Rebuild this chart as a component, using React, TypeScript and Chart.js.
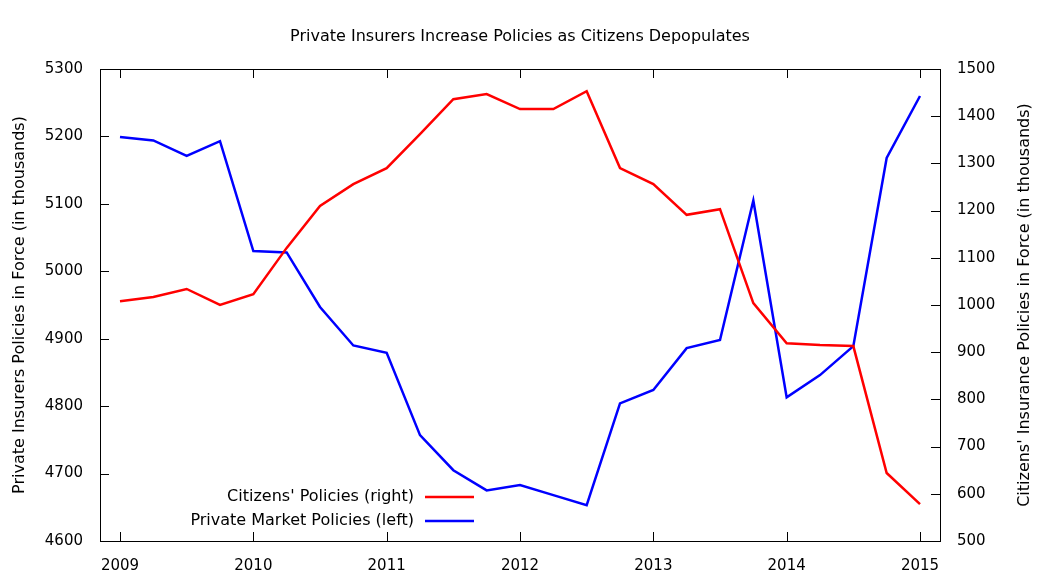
import React, { useEffect, useRef } from "react";
import { Chart, registerables } from "chart.js";
Chart.register(...registerables);

const quarters = [2009,2009.25,2009.5,2009.75,2010,2010.25,2010.5,2010.75,2011,2011.25,2011.5,2011.75,2012,2012.25,2012.5,2012.75,2013,2013.25,2013.5,2013.75,2014,2014.25,2014.5,2014.75,2015];
const privateMarket = [5199,5194,5171,5193,5030,5028,4947,4890,4879,4757,4705,4675,4683,4668,4653,4804,4824,4886,4898,5105,4813,4846,4889,5168,5260];
const citizens = [1008,1017,1034,1000,1023,1121,1210,1256,1290,1362,1436,1447,1415,1415,1453,1290,1256,1191,1203,1004,919,915,913,644,578];
const yearTicks = [2009, 2010, 2011, 2012, 2013, 2014, 2015];
const chartTitle = "Private Insurers Increase Policies as Citizens Depopulates";
const leftTitle = "Private Insurers Policies in Force (in thousands)";
const rightTitle = "Citizens' Insurance Policies in Force (in thousands)";
const legendLabels = ["Citizens' Policies (right)", "Private Market Policies (left)"];
const FONT = "'DejaVu Sans', sans-serif";

export default function App() {
  const ref = useRef<HTMLCanvasElement>(null);
  useEffect(() => {
    document.body.style.margin = "0";
    const deco = {
      id: "deco",
      afterDraw(c: any) {
        const ctx = c.ctx as CanvasRenderingContext2D;
        const a = c.chartArea;
        ctx.save();
        ctx.strokeStyle = "#000"; ctx.lineWidth = 1;
        ctx.strokeRect(a.left + 0.5, a.top + 0.5, a.right - a.left, a.bottom - a.top);
        const x = c.scales.x, yl = c.scales.y, yr = c.scales.y1;
        ctx.beginPath();
        for (const v of yearTicks) {
          const p = Math.round(x.getPixelForValue(v)) + 0.5;
          ctx.moveTo(p, a.bottom); ctx.lineTo(p, a.bottom - 9);
          ctx.moveTo(p, a.top); ctx.lineTo(p, a.top + 9);
        }
        for (let v = 4600; v <= 5300; v += 100) {
          const p = Math.round(yl.getPixelForValue(v)) + 0.5;
          ctx.moveTo(a.left, p); ctx.lineTo(a.left + 9, p);
        }
        for (let v = 500; v <= 1500; v += 100) {
          const p = Math.round(yr.getPixelForValue(v)) + 0.5;
          ctx.moveTo(a.right, p); ctx.lineTo(a.right - 9, p);
        }
        ctx.stroke();
        ctx.fillStyle = "#000";
        ctx.font = `16px ${FONT}`;
        ctx.textAlign = "center"; ctx.textBaseline = "middle";
        ctx.fillText(chartTitle, 520, 37);
        ctx.save(); ctx.translate(20, 305); ctx.rotate(-Math.PI / 2); ctx.fillText(leftTitle, 0, 0); ctx.restore();
        ctx.save(); ctx.translate(1025, 305); ctx.rotate(-Math.PI / 2); ctx.fillText(rightTitle, 0, 0); ctx.restore();
        const cols = ["#ff0000", "#0000ff"];
        ctx.textAlign = "right";
        legendLabels.forEach((t, i) => {
          const y = 497 + i * 24;
          ctx.fillStyle = "#000";
          ctx.fillText(t, 414, y);
          ctx.strokeStyle = cols[i]; ctx.lineWidth = 2.5;
          ctx.beginPath(); ctx.moveTo(425, y); ctx.lineTo(474, y); ctx.stroke();
        });
        ctx.restore();
      },
    };
    const tickFont = { family: FONT, size: 15 };
    const chart = new Chart(ref.current!, {
      type: "line",
      data: {
        datasets: [
          { label: "Citizens", data: quarters.map((q, i) => ({ x: q, y: citizens[i] })), borderColor: "#ff0000", borderWidth: 2.5, pointRadius: 0, yAxisID: "y1", tension: 0 },
          { label: "Private", data: quarters.map((q, i) => ({ x: q, y: privateMarket[i] })), borderColor: "#0000ff", borderWidth: 2.5, pointRadius: 0, yAxisID: "y", tension: 0 },
        ],
      },
      options: {
        animation: false, responsive: false,
        layout: { padding: { top: 69, left: 0, right: 0, bottom: 0 } },
        plugins: { legend: { display: false }, tooltip: { enabled: false } },
        scales: {
          x: { type: "linear", min: 2008.85, max: 2015.15, grid: { display: false }, border: { display: false },
            afterBuildTicks: (s: any) => { s.ticks = yearTicks.map((v) => ({ value: v })); },
            ticks: { padding: 8, color: "#000", font: tickFont, callback: (v: any) => String(v) },
            afterFit: (s: any) => { s.height = 43; } },
          y: { position: "left", min: 4600, max: 5300, grid: { display: false }, border: { display: false },
            ticks: { stepSize: 100, padding: 9, color: "#000", font: tickFont, callback: (v: any) => String(v) },
            afterFit: (s: any) => { s.width = 100; } },
          y1: { position: "right", min: 500, max: 1500, grid: { display: false }, border: { display: false },
            ticks: { stepSize: 100, padding: 9, color: "#000", font: tickFont, callback: (v: any) => String(v) },
            afterFit: (s: any) => { s.width = 122; } },
        },
      },
      plugins: [deco],
    });
    return () => chart.destroy();
  }, []);
  return <div style={{ width: 1062, height: 584, background: "#fff" }}><canvas ref={ref} width={1062} height={584} /></div>;
}
